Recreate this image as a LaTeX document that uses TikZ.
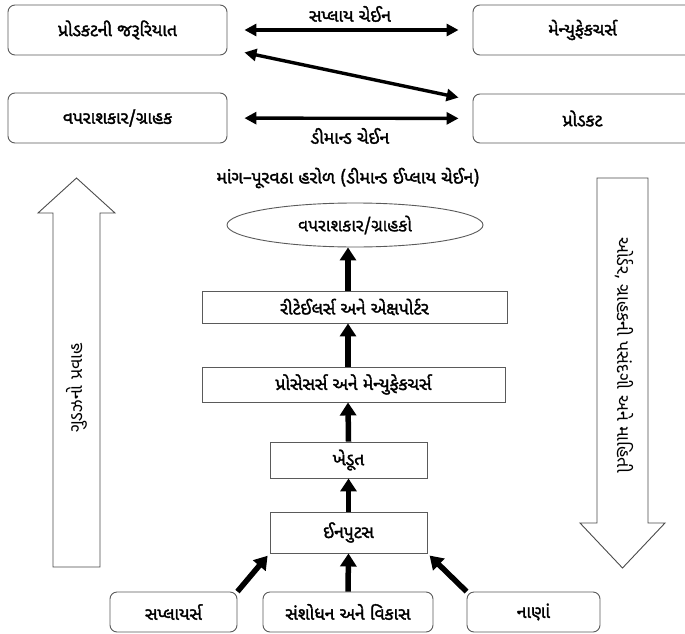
\documentclass[tikz,border=0pt]{standalone}
\usepackage{fontspec}
\usetikzlibrary{shapes.geometric,arrows.meta,calc}
\newfontfamily\guj[Script=Gujarati]{Noto Sans Gujarati UI}
\newfontfamily\gujb[Script=Gujarati,FakeBold=1.8]{Noto Sans Gujarati UI}
\newfontfamily\gujm[Script=Gujarati,FakeBold=1.0]{Noto Sans Gujarati UI}
\definecolor{boxgray}{HTML}{5A5A5A}
\definecolor{arrgray}{HTML}{4A4A4A}
\begin{document}
\begin{tikzpicture}[x=1pt,y=-1pt,
  rbox/.style={draw=boxgray, line width=0.9pt, rounded corners=7pt, font=\gujb\fontsize{17.5}{20}\selectfont, inner sep=0pt},
  sbox/.style={draw=boxgray, line width=0.9pt, font=\gujb\fontsize{17.5}{20}\selectfont, inner sep=0pt},
  lbl/.style={font=\gujb\fontsize{17.5}{20}\selectfont, inner sep=0pt},
  rot/.style={font=\guj\fontsize{18}{20}\selectfont, inner sep=0pt},
  dbl/.style={{Triangle[length=12pt,width=12pt]}-{Triangle[length=12pt,width=12pt]}, line width=3.4pt},
  up/.style={-{Triangle[length=13pt,width=16pt]}, line width=5.5pt},
  bigarrow/.style={draw=arrgray, line width=0.9pt, fill=white}
]
\fill[white] (0,0) rectangle (685,634);
\useasboundingbox (0,0) rectangle (685,634);
\clip (0,0) rectangle (685,634);

% top rows
\node[rbox, minimum width=219pt, minimum height=50pt] (b1) at (117.5,30) {પ્રોડકટની જરૂરિયાત};
\node[rbox, minimum width=219pt, minimum height=50pt] (b2) at (582.5,30) {મેન્યુફેકચર્સ};
\node[rbox, minimum width=219pt, minimum height=50pt] (b3) at (117.5,118) {વપરાશકાર/ગ્રાહક};
\node[rbox, minimum width=219pt, minimum height=49pt] (b4) at (582.5,118.5) {પ્રોડકટ};

\draw[dbl, shorten <=17pt, shorten >=14pt] (b1) -- (b2);
\draw[dbl] ($(b1.south east)+(17,-3)$) -- ($(b4.north west)+(-14,4)$);
\draw[dbl, shorten <=17pt, shorten >=14pt] (b3) -- (b4);

\node[lbl] (l1) at (350,14) {સપ્લાય ચેઈન};
\node[lbl] (l2) at (350,136) {ડીમાન્ડ ચેઈન};

\node[lbl] (t) at (348,178) {માંગ–પૂરવઠા હરોળ (ડીમાન્ડ ઈપ્લાય ચેઈન)};

% big side arrows
\draw[bigarrow] (53,567) -- (53,213) -- (38,213) -- (76.5,178) -- (115,213) -- (100,213) -- (100,567) -- cycle;
\node[rot, rotate=90] (lt) at (76.5,388) {ગુડઝનો પ્રવાહ};
\draw[bigarrow] (597,178) -- (648,178) -- (648,523) -- (665,523) -- (622.5,568) -- (580,523) -- (597,523) -- cycle;
\node[rot, rotate=-90] (rt) at (624,355) {ઓર્ડર, ગ્રાહકની પસંદગી અને માહિતી};

% middle column
\node[ellipse, draw=boxgray, line width=0.9pt, minimum width=256pt, minimum height=44pt, inner sep=0pt, font=\gujm\fontsize{17.5}{20}\selectfont] (e) at (355,225) {વપરાશકાર/ગ્રાહકો};
\node[sbox, minimum width=305pt, minimum height=32pt] (r) at (354.5,307) {રીટેઈલર્સ અને એક્ષપોર્ટર};
\node[sbox, minimum width=303pt, minimum height=35pt] (p) at (353.5,384.5) {પ્રોસેસર્સ અને મેન્યુફેકચર્સ};
\node[sbox, minimum width=157pt, minimum height=36pt] (k) at (348.5,460) {ખેડૂત};
\node[sbox, minimum width=157pt, minimum height=41pt] (i) at (348.5,532.5) {ઈનપુટસ};

\node[rbox, minimum width=127pt, minimum height=40pt] (s) at (173.5,612) {સપ્લાયર્સ};
\node[rbox, minimum width=170pt, minimum height=40pt] (rd) at (348,612) {સંશોધન અને વિકાસ};
\node[rbox, minimum width=133pt, minimum height=40pt] (f) at (533.5,612) {નાણાં};

\coordinate (col) at (348,0);
\draw[up] (r.north -| col) -- (e.south -| col);
\draw[up] (p.north -| col) -- (r.south -| col);
\draw[up] (k.north) -- (p.south -| col);
\draw[up] (i.north) -- (k.south);
\draw[up] (rd.north) -- (i.south);
\draw[up, shorten >=3pt] (s.north east) -- (i.south west);
\draw[up, shorten >=3pt] (f.north west) -- (i.south east);
\end{tikzpicture}
\end{document}
